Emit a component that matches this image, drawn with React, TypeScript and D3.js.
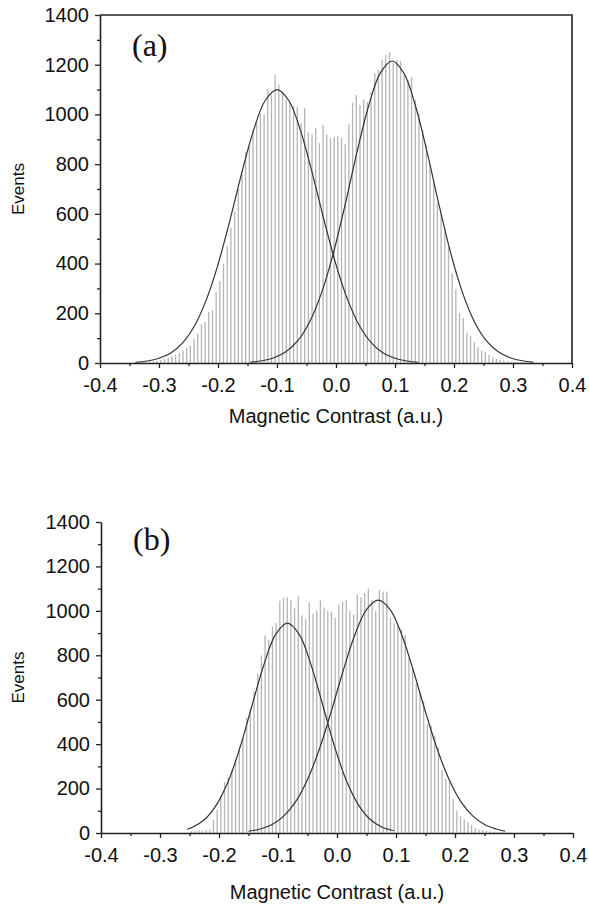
import { useEffect, useRef } from "react";
import * as d3 from "d3";

// histogram bins, shared by both panels
const binStart = -0.4;
const binWidth = 0.00625;

// panel (a): counts, first entry is bin index 9
const firstBinA = 9;
const countsA = [
  2, 2, 3, 4, 5, 7, 9, 12, 16, 20,
  26, 32, 40, 52, 62, 70, 98, 118, 155, 165,
  205, 212, 285, 330, 400, 470, 545, 610, 700, 760,
  850, 870, 940, 965, 1005,
  1000, 1100, 1080, 1160, 1120, 1090, 1060, 1050, 1035, 1030,
  965, 1025, 929, 920, 945, 885, 957, 920, 905, 910,
  912, 905, 880, 961, 1046, 1078, 1038, 1060, 1050, 1090,
  1166, 1178, 1219, 1240, 1250, 1207, 1219, 1215, 1158, 1138,
  1150, 1058, 1005, 937, 877, 796, 724, 644, 600, 530,
  467, 362, 295, 201, 181, 121, 110, 84, 64, 50,
  44, 32, 24, 18, 12, 10, 7, 5, 4, 3,
  2, 2, 1, 1,
];

// panel (b): counts, first entry is bin index 24
const firstBinB = 24;
const countsB = [
  8, 10, 12, 10, 14, 15, 60, 105, 165, 230,
  250, 280, 330, 390, 430, 520, 560, 640, 720, 800,
  890, 870, 929, 945, 1045, 1058, 1061, 1048, 1013, 1065,
  980, 963, 1039, 987, 1000, 1048, 1015, 1000, 996, 970,
  1028, 1041, 1048, 1000, 983, 1074, 1061, 1080, 1100, 1050,
  1000, 1093, 1087, 1087, 970, 944, 931, 918, 892, 790,
  737, 672, 633, 594, 490, 484, 438, 386, 283, 244,
  231, 153, 101, 75, 62, 49, 36, 23, 17, 13,
  10, 8, 6, 4, 3, 2,
];

// fitted peak curves, [contrast, events]
const fitA1: [number, number][] = [
  [-0.34, 3], [-0.32, 8], [-0.3, 19], [-0.28, 40], [-0.26, 81], [-0.24, 149],
  [-0.22, 253], [-0.2, 396], [-0.18, 572], [-0.16, 762], [-0.14, 934], [-0.12, 1056],
  [-0.1, 1100], [-0.08, 1056], [-0.06, 934], [-0.04, 762], [-0.02, 572], [0.0, 396],
  [0.02, 253], [0.04, 149], [0.06, 81], [0.08, 40], [0.1, 19], [0.12, 8], [0.14, 3],
];
const fitA2: [number, number][] = [
  [-0.145, 3], [-0.125, 9], [-0.105, 21], [-0.085, 45], [-0.065, 89], [-0.045, 164],
  [-0.025, 279], [-0.005, 437], [0.015, 632], [0.035, 842], [0.055, 1032], [0.075, 1166],
  [0.095, 1215], [0.115, 1166], [0.135, 1032], [0.155, 842], [0.175, 632], [0.195, 437],
  [0.215, 279], [0.235, 164], [0.255, 89], [0.275, 45], [0.295, 21], [0.315, 9], [0.335, 3],
];
const fitB1: [number, number][] = [
  [-0.254, 17], [-0.244, 27], [-0.224, 62], [-0.204, 128], [-0.184, 235], [-0.164, 388],
  [-0.144, 574], [-0.124, 757], [-0.104, 894], [-0.084, 945], [-0.064, 894], [-0.044, 757],
  [-0.024, 574], [-0.004, 388], [0.016, 235], [0.036, 128], [0.056, 62], [0.076, 27], [0.096, 10],
];
const fitB2: [number, number][] = [
  [-0.15, 8], [-0.13, 18], [-0.11, 38], [-0.09, 77], [-0.07, 141], [-0.05, 241],
  [-0.03, 377], [-0.01, 545], [0.01, 726], [0.03, 890], [0.05, 1006], [0.07, 1048],
  [0.09, 1006], [0.11, 890], [0.13, 726], [0.15, 545], [0.17, 377], [0.19, 241],
  [0.21, 141], [0.23, 77], [0.25, 38], [0.27, 18], [0.285, 8],
];

const xMajor = [-0.4, -0.3, -0.2, -0.1, 0, 0.1, 0.2, 0.3, 0.4];
const xMinor = [-0.35, -0.25, -0.15, -0.05, 0.05, 0.15, 0.25, 0.35];
const yMajor = [0, 200, 400, 600, 800, 1000, 1200, 1400];
const yMinor = [100, 300, 500, 700, 900, 1100, 1300];
const xTitle = "Magnetic Contrast (a.u.)";
const yTitle = "Events";

const sans = "'Liberation Sans', Arial, sans-serif";
const serif = "'Liberation Serif', 'Times New Roman', serif";

const panels = [
  { tag: "(a)", counts: countsA, first: firstBinA, fits: [fitA1, fitA2], left: 100, right: 572, top: 15, bottom: 363, frame: true, tagY: 56, titleY: 423 },
  { tag: "(b)", counts: countsB, first: firstBinB, fits: [fitB1, fitB2], left: 101, right: 573, top: 522, bottom: 833, frame: false, tagY: 550, titleY: 899 },
];

function drawPanel(svg: any, p: any) {
  const x = d3.scaleLinear().domain([-0.4, 0.4]).range([p.left, p.right]);
  const y = d3.scaleLinear().domain([0, 1400]).range([p.bottom, p.top]);
  const g = svg.append("g");

  // histogram bars
  g.append("g")
    .selectAll("rect")
    .data(p.counts)
    .join("rect")
    .attr("x", (d: number, i: number) => x(binStart + (p.first + i + 0.5) * binWidth) - 0.65)
    .attr("width", 1.3)
    .attr("y", (d: number) => y(d))
    .attr("height", (d: number) => y(0) - y(d))
    .attr("fill", "#b4b4b4");

  // gaussian fits
  const line = d3
    .line<[number, number]>()
    .x((d) => x(d[0]))
    .y((d) => y(d[1]))
    .curve(d3.curveCatmullRom);
  p.fits.forEach((f: [number, number][]) => {
    g.append("path")
      .attr("d", line(f))
      .attr("fill", "none")
      .attr("stroke", "#333")
      .attr("stroke-width", 1.2);
  });

  const fmt = (d: any) => (+d).toFixed(1);

  // x axis
  const xa = g
    .append("g")
    .attr("transform", `translate(0,${p.bottom})`)
    .call(d3.axisBottom(x).tickValues(xMajor).tickSize(5).tickSizeOuter(0).tickPadding(10).tickFormat(fmt));
  g.append("g")
    .attr("transform", `translate(0,${p.bottom})`)
    .call(d3.axisBottom(x).tickValues(xMinor).tickSize(3).tickSizeOuter(0).tickFormat(() => ""))
    .call((s: any) => s.select(".domain").remove());

  // y axis
  const ya = g
    .append("g")
    .attr("transform", `translate(${p.left},0)`)
    .call(d3.axisLeft(y).tickValues(yMajor).tickSize(5).tickSizeOuter(0).tickPadding(6).tickFormat(d3.format("d")));
  g.append("g")
    .attr("transform", `translate(${p.left},0)`)
    .call(d3.axisLeft(y).tickValues(yMinor).tickSize(3).tickSizeOuter(0).tickFormat(() => ""))
    .call((s: any) => s.select(".domain").remove());

  g.selectAll(".tick line").attr("stroke", "#222").attr("stroke-width", 1.3);
  g.selectAll(".domain").attr("stroke", "#222").attr("stroke-width", 1.6);
  [xa, ya].forEach((a) => a.selectAll("text").attr("font-family", sans).attr("font-size", 20).attr("fill", "#111"));

  if (p.frame) {
    g.append("path")
      .attr("d", `M${p.left},${p.top}H${p.right}V${p.bottom}`)
      .attr("fill", "none")
      .attr("stroke", "#222")
      .attr("stroke-width", 1.6);
  }

  g.append("text")
    .attr("x", p.left + 32)
    .attr("y", p.tagY)
    .attr("font-family", serif)
    .attr("font-size", 32)
    .attr("fill", "#111")
    .text(p.tag);

  g.append("text")
    .attr("x", (p.left + p.right) / 2)
    .attr("y", p.titleY)
    .attr("text-anchor", "middle")
    .attr("font-family", sans)
    .attr("font-size", 20)
    .attr("fill", "#111")
    .text(xTitle);

  g.append("text")
    .attr("transform", `translate(24,${(p.top + p.bottom) / 2}) rotate(-90)`)
    .attr("text-anchor", "middle")
    .attr("font-family", sans)
    .attr("font-size", 17)
    .attr("fill", "#111")
    .text(yTitle);
}

export default function App() {
  const ref = useRef<SVGSVGElement>(null);
  useEffect(() => {
    const svg = d3.select(ref.current);
    svg.selectAll("*").remove();
    panels.forEach((p) => drawPanel(svg, p));
  }, []);
  return (
    <svg
      ref={ref}
      width={589}
      height={909}
      style={{ position: "absolute", left: 0, top: 0, background: "#fff" }}
    />
  );
}
